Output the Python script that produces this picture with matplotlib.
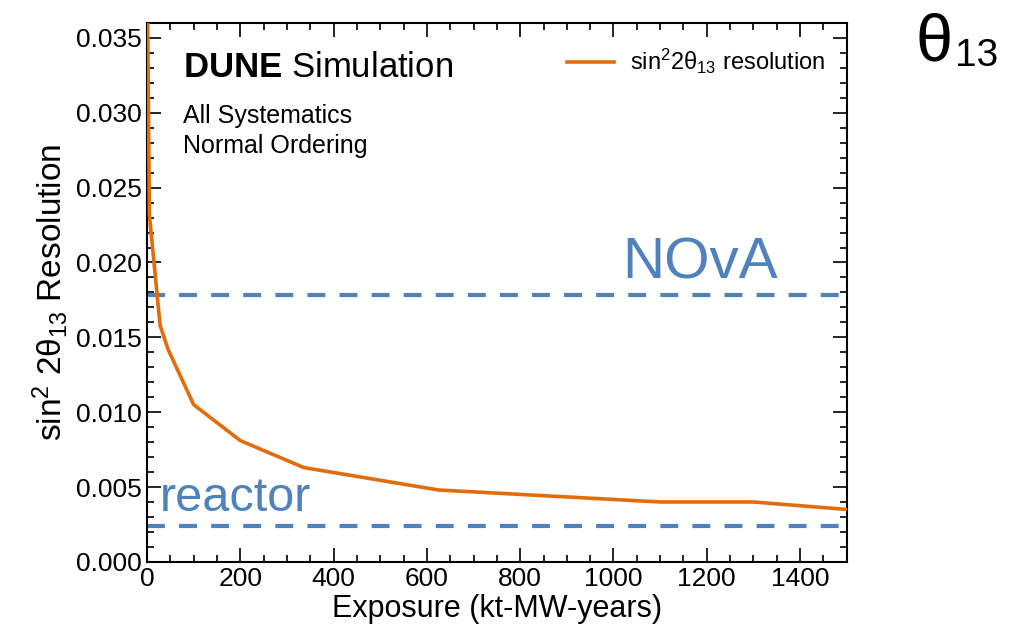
import matplotlib
matplotlib.use("Agg")
import matplotlib.pyplot as plt
from matplotlib.ticker import MultipleLocator

plt.rcParams['font.family'] = ['Liberation Sans', 'DejaVu Sans']
plt.rcParams['mathtext.fontset'] = 'custom'
plt.rcParams['mathtext.rm'] = 'Liberation Sans'
plt.rcParams['mathtext.it'] = 'Liberation Sans'
plt.rcParams['mathtext.bf'] = 'Liberation Sans:bold'

# sin^2(2 theta13) resolution vs exposure
exposure = [1, 5, 28, 45, 100, 200, 336, 625, 1100, 1300, 1500]
resolution = [0.0375, 0.0232, 0.0158, 0.0142, 0.0105, 0.0081, 0.0063,
              0.0048, 0.0040, 0.0040, 0.0035]

# reference measurements
nova_level = 0.0178
reactor_level = 0.0024

orange = '#e36c0a'
blue = '#4f81bd'

fig = plt.figure(figsize=(10.14, 6.32), dpi=100)
ax = fig.add_axes([0.145, 0.111, 0.69, 0.8526])

ax.plot(exposure, resolution, color=orange, lw=2.6,
        label='sin$^{2}$2θ$_{13}$ resolution', zorder=3)
ax.axhline(nova_level, color=blue, lw=3, dashes=(4.3, 3.4), zorder=2)
ax.axhline(reactor_level, color=blue, lw=3, dashes=(4.3, 3.4), zorder=2)

ax.text(1018, 0.0189, 'NOvA', color=blue, fontsize=42)
ax.text(28, 0.0034, 'reactor', color=blue, fontsize=35)

ax.set_xlim(0, 1500)
ax.set_ylim(0, 0.036)
ax.xaxis.set_major_locator(MultipleLocator(200))
ax.xaxis.set_minor_locator(MultipleLocator(50))
ax.yaxis.set_major_locator(MultipleLocator(0.005))
ax.yaxis.set_minor_locator(MultipleLocator(0.001))
ax.yaxis.set_major_formatter(lambda v, p: f'{v:.3f}')
ax.tick_params(which='both', direction='in', top=True, right=True,
               labelsize=19, width=1.2)
ax.tick_params(which='major', length=10)
ax.tick_params(which='minor', length=5)
ax.tick_params(axis='x', pad=4)
ax.tick_params(axis='y', pad=4)
for s in ax.spines.values():
    s.set_linewidth(1.5)

ax.set_xlabel('Exposure (kt-MW-years)', fontsize=22, labelpad=2)
ax.set_ylabel('sin$^{2}$ 2θ$_{13}$ Resolution', fontsize=24, labelpad=4)

ax.text(0.051, 0.900, r'$\mathbf{DUNE}$ Simulation', transform=ax.transAxes,
        fontsize=25, va='baseline')
ax.text(0.051, 0.8145, 'All Systematics', transform=ax.transAxes,
        fontsize=18, va='baseline')
ax.text(0.051, 0.759, 'Normal Ordering', transform=ax.transAxes,
        fontsize=18, va='baseline')

ax.legend(loc='center left', frameon=False, fontsize=17, handlelength=2.0,
          handletextpad=0.68, bbox_to_anchor=(0.570, 0.928))

fig.text(0.903, 0.905, 'θ', fontsize=48)
fig.text(0.942, 0.895, '13', fontsize=28)

fig.savefig('out.png', dpi=100)
